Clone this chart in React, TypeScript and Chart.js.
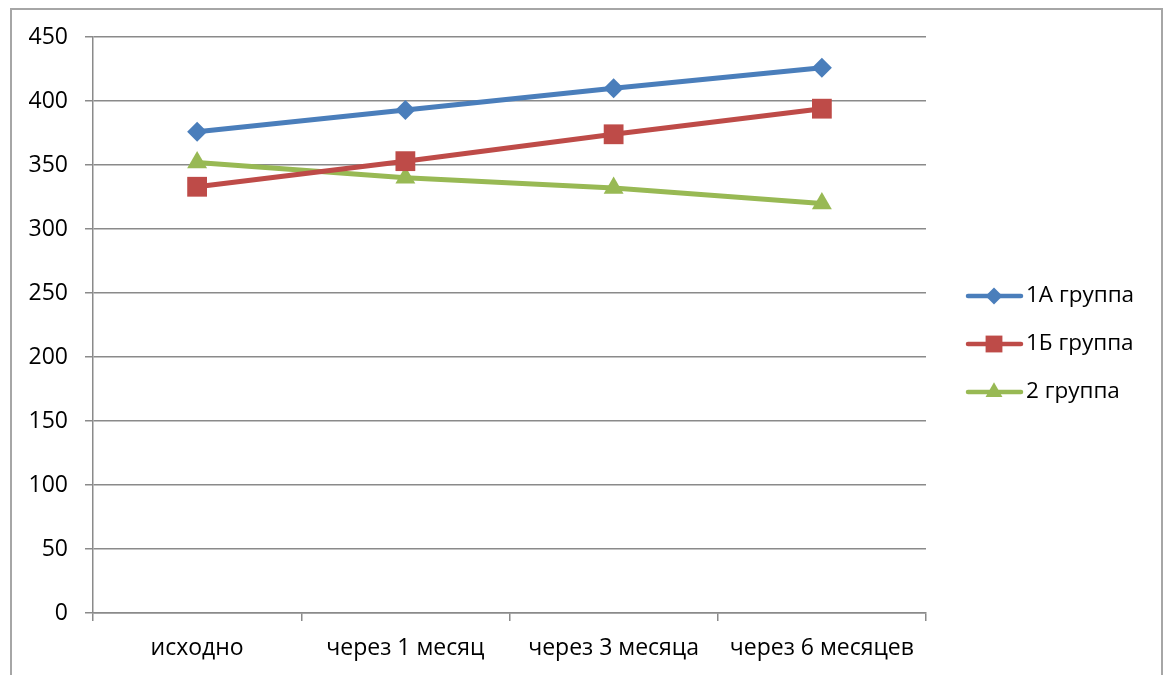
import React, { useEffect, useRef } from "react";
import { Chart, registerables } from "chart.js";
import { drawPoint } from "chart.js/helpers";

Chart.register(...registerables);

const categories = ["исходно", "через 1 месяц", "через 3 месяца", "через 6 месяцев"];
const group1A = [376, 393, 410, 426];
const group1B = [333, 353, 374, 394];
const group2 = [352, 340, 332, 320];
const seriesNames = ["1А группа", "1Б группа", "2 группа"];
const yTicks = [0, 50, 100, 150, 200, 250, 300, 350, 400, 450];

const FONT = "'Open Sans', 'Liberation Sans', sans-serif";
const GRID = "#8a8a8a";

const frameAndLegend = {
  id: "frameAndLegend",
  beforeDraw(chart: any) {
    const ctx = chart.ctx;
    ctx.save();
    ctx.fillStyle = "#ffffff";
    ctx.fillRect(0, 0, chart.width, chart.height);
    ctx.strokeStyle = "#a6a6a6";
    ctx.lineWidth = 2;
    ctx.strokeRect(11, 9, 1151, 700);
    ctx.restore();
  },
  afterDraw(chart: any) {
    const ctx = chart.ctx;
    ctx.save();
    const ys = [296, 344, 392];
    chart.data.datasets.forEach((ds: any, i: number) => {
      const y = ys[i];
      ctx.strokeStyle = ds.borderColor;
      ctx.lineWidth = 4.5;
      ctx.lineCap = "round";
      ctx.beginPath();
      ctx.moveTo(968, y);
      ctx.lineTo(1021, y);
      ctx.stroke();
      ctx.fillStyle = ds.backgroundColor;
      drawPoint(ctx, { pointStyle: ds.pointStyle, radius: ds.pointRadius * 0.85, borderWidth: 0, rotation: 0 } as any, 994, y);
      ctx.fillStyle = "#000000";
      ctx.font = `22.5px ${FONT}`;
      ctx.textAlign = "left";
      ctx.textBaseline = "middle";
      ctx.fillText(ds.label, 1026, y);
    });
    ctx.restore();
  },
};

export default function App() {
  const ref = useRef<HTMLCanvasElement>(null);
  useEffect(() => {
    if (!ref.current) return;
    const mk = (label: string, data: number[], color: string, style: string, r: number) => ({
      label,
      data,
      borderColor: color,
      backgroundColor: color,
      borderWidth: 5,
      pointStyle: style,
      pointRadius: r,
      pointHoverRadius: r,
      pointBorderWidth: 0,
      tension: 0,
    });
    const chart = new Chart(ref.current, {
      type: "line",
      data: {
        labels: categories,
        datasets: [
          mk(seriesNames[0], group1A, "#4a7ebb", "rectRot", 10),
          mk(seriesNames[1], group1B, "#be4b48", "rect", 14),
          mk(seriesNames[2], group2, "#98b954", "triangle", 11.5),
        ] as any,
      },
      options: {
        animation: false,
        responsive: false,
        layout: { padding: { left: 0, top: 37, right: 244, bottom: 0 } },
        plugins: { legend: { display: false }, tooltip: { enabled: false } },
        scales: {
          x: {
            offset: true,
            grid: { offset: true, drawOnChartArea: false, drawTicks: true, tickLength: 8, color: GRID, lineWidth: 1.5 },
            border: { color: GRID, width: 1.5 },
            ticks: { color: "#000", font: { family: FONT, size: 23 }, padding: 14, maxRotation: 0 },
            afterFit: (s: any) => { s.height = 62; },
          },
          y: {
            min: 0,
            max: 450,
            afterBuildTicks: (s: any) => { s.ticks = yTicks.map((v) => ({ value: v })); },
            grid: { color: GRID, lineWidth: 1.5, tickLength: 8 },
            border: { color: GRID, width: 1.5 },
            ticks: { color: "#000", font: { family: FONT, size: 23 }, padding: 17 },
            afterFit: (s: any) => { s.width = 93; },
          },
        },
      },
      plugins: [frameAndLegend],
    });
    return () => chart.destroy();
  }, []);
  return (
    <div style={{ position: "fixed", left: 0, top: 0, width: 1170, height: 675, background: "#fff" }}>
      <canvas ref={ref} width={1170} height={675} style={{ display: "block" }} />
    </div>
  );
}
